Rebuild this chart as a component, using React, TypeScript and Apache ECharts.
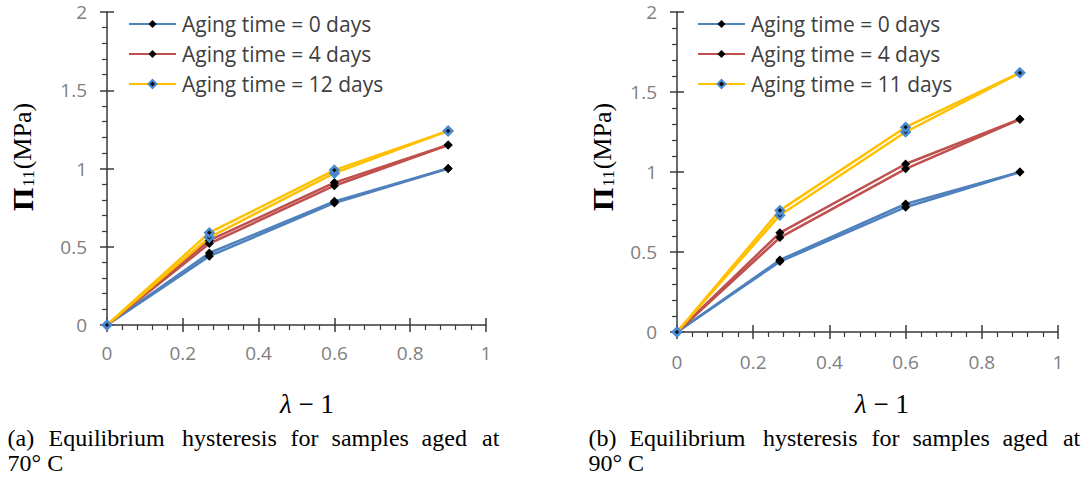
import React, { useEffect, useRef } from "react";
import * as echarts from "echarts";

// stretch (lambda - 1) at which the points were measured
const stretch = [0, 0.27, 0.6, 0.9];

// tick values
const xTicks = { min: 0, max: 1, interval: 0.2 };
const yTicks = { min: 0, max: 2, interval: 0.5 };

// (a) aged at 70°C — two branches (loading / unloading) per aging time
const names70 = ["Aging time = 0 days", "Aging time = 4 days", "Aging time = 12 days"];
const a70_0_load = [0, 0.44, 0.78, 1.0];
const a70_0_unload = [0, 0.46, 0.79, 1.0];
const a70_4_load = [0, 0.52, 0.89, 1.15];
const a70_4_unload = [0, 0.54, 0.91, 1.15];
const a70_12_load = [0, 0.56, 0.97, 1.24];
const a70_12_unload = [0, 0.59, 0.99, 1.24];

// (b) aged at 90°C
const names90 = ["Aging time = 0 days", "Aging time = 4 days", "Aging time = 11 days"];
const a90_0_load = [0, 0.44, 0.78, 1.0];
const a90_0_unload = [0, 0.45, 0.8, 1.0];
const a90_4_load = [0, 0.59, 1.02, 1.33];
const a90_4_unload = [0, 0.62, 1.05, 1.33];
const a90_11_load = [0, 0.73, 1.25, 1.62];
const a90_11_unload = [0, 0.76, 1.28, 1.62];

const captionA = ["(a)", "Equilibrium", "hysteresis", "for", "samples", "aged", "at"];
const captionB = ["(b)", "Equilibrium", "hysteresis", "for", "samples", "aged", "at"];
const captionA2 = "70° C";
const captionB2 = "90° C";

const COLORS = ["#4F81BD", "#C0504D", "#FFC000"];
const AXIS_COLOR = "#3a3a3a";
const TICK_FONT = "'Open Sans', sans-serif";
const SERIF_NAME = "Liberation Serif";

function pairs(ys: number[]) {
  return stretch.map((x, i) => [x, ys[i]]);
}

function lineSeries(name: string, color: string, ys: number[], axis: number, special: boolean) {
  return {
    type: "line",
    name,
    xAxisIndex: axis,
    yAxisIndex: axis,
    data: pairs(ys),
    symbol: "diamond",
    symbolSize: special ? 8 : 9,
    lineStyle: { color, width: 2.5 },
    itemStyle: special
      ? { color: "#111111", borderColor: "#4a8ad0", borderWidth: 2.5 }
      : { color: "#000000", borderWidth: 0 },
    emphasis: { disabled: true },
    z: 2,
  };
}

function mainX(gridIndex: number, margin: number) {
  return {
    type: "value",
    gridIndex,
    position: "bottom",
    ...xTicks,
    axisLine: { show: true, onZero: false, lineStyle: { color: AXIS_COLOR, width: 1.5 } },
    axisTick: { show: true, length: 7, lineStyle: { color: AXIS_COLOR, width: 1.5 } },
    minorTick: { show: true, splitNumber: 5, length: 5, lineStyle: { color: AXIS_COLOR, width: 1.2 } },
    splitLine: { show: false },
    axisLabel: { margin, fontFamily: TICK_FONT, fontSize: 19, lineHeight: 19, color: "#808080" },
  };
}
function overlayX(gridIndex: number) {
  return {
    type: "value",
    gridIndex,
    position: "bottom",
    ...xTicks,
    axisLine: { show: false, onZero: false },
    axisTick: { show: true, inside: true, length: 7, lineStyle: { color: AXIS_COLOR, width: 1.5 } },
    minorTick: { show: false },
    splitLine: { show: false },
    axisLabel: { show: false },
  };
}
function mainY(gridIndex: number) {
  return {
    type: "value",
    gridIndex,
    position: "left",
    ...yTicks,
    axisLine: { show: true, onZero: false, lineStyle: { color: AXIS_COLOR, width: 1.5 } },
    axisTick: { show: true, length: 7, lineStyle: { color: AXIS_COLOR, width: 1.5 } },
    minorTick: { show: true, splitNumber: 5, length: 5, lineStyle: { color: AXIS_COLOR, width: 1.2 } },
    splitLine: { show: false },
    axisLabel: { margin: 20, fontFamily: TICK_FONT, fontSize: 19, lineHeight: 17, color: "#808080" },
  };
}
function overlayY(gridIndex: number) {
  return {
    type: "value",
    gridIndex,
    position: "left",
    ...yTicks,
    axisLine: { show: false, onZero: false },
    axisTick: { show: true, inside: true, length: 7, lineStyle: { color: AXIS_COLOR, width: 1.5 } },
    minorTick: { show: false },
    splitLine: { show: false },
    axisLabel: { show: false },
  };
}

function serifFont(size: number, extra = "") {
  return `${extra} ${size}px "${SERIF_NAME}", serif`.trim();
}

function yTitle(cx: number, cy: number) {
  return {
    type: "text",
    x: cx,
    y: cy,
    rotation: Math.PI / 2,
    style: {
      text: "{p|Π}{s|11}{m|(MPa)}",
      align: "center",
      verticalAlign: "middle",
      rich: {
        p: { font: serifFont(30, "bold"), fill: "#000" },
        s: { font: serifFont(17), fill: "#000", padding: [12, 1, 0, 1] },
        m: { font: serifFont(26), fill: "#000" },
      },
    },
  };
}

function xTitle(cx: number, cy: number) {
  return {
    type: "text",
    x: cx,
    y: cy,
    style: {
      text: "{l|λ}{t| − 1}",
      align: "center",
      verticalAlign: "middle",
      rich: {
        l: { font: serifFont(27, "italic"), fill: "#000" },
        t: { font: serifFont(27), fill: "#000" },
      },
    },
  };
}

const wordOffsets = [0, 41, 174.5, 283, 324, 414, 474.5];

function caption(words: string[], second: string, x0: number) {
  const els: any[] = words.map((w, i) => ({
    type: "text",
    x: x0 + wordOffsets[i],
    y: 438,
    style: { text: w, font: serifFont(24), fill: "#000", align: "left", verticalAlign: "middle" },
  }));
  els.push({
    type: "text",
    x: x0,
    y: 463,
    style: { text: second, font: serifFont(24), fill: "#000", align: "left", verticalAlign: "middle" },
  });
  return els;
}

function legend(left: number, names: string[]) {
  return {
    left,
    top: 13,
    padding: 0,
    orient: "vertical",
    itemWidth: 47,
    itemHeight: 10,
    itemGap: 8,
    data: names,
    selectedMode: false,
    textStyle: { fontFamily: TICK_FONT, fontSize: 21, color: "#404040", lineHeight: 22, padding: [0, 0, 0, 1] },
  };
}

export default function App() {
  const ref = useRef<HTMLDivElement>(null);

  useEffect(() => {
    if (!ref.current) return;
    const chart = echarts.init(ref.current, null, { renderer: "svg" });

    const series = [
      lineSeries(names70[0], COLORS[0], a70_0_load, 0, false),
      lineSeries(names70[0], COLORS[0], a70_0_unload, 0, false),
      lineSeries(names70[1], COLORS[1], a70_4_load, 0, false),
      lineSeries(names70[1], COLORS[1], a70_4_unload, 0, false),
      lineSeries(names70[2], COLORS[2], a70_12_load, 0, true),
      lineSeries(names70[2], COLORS[2], a70_12_unload, 0, true),
      lineSeries(names90[0], COLORS[0], a90_0_load, 2, false),
      lineSeries(names90[0], COLORS[0], a90_0_unload, 2, false),
      lineSeries(names90[1], COLORS[1], a90_4_load, 2, false),
      lineSeries(names90[1], COLORS[1], a90_4_unload, 2, false),
      lineSeries(names90[2], COLORS[2], a90_11_load, 2, true),
      lineSeries(names90[2], COLORS[2], a90_11_unload, 2, true),
    ];

    chart.setOption({
      animation: false,
      backgroundColor: "#ffffff",
      grid: [
        { left: 107, top: 12, width: 379, height: 313 },
        { left: 677, top: 12, width: 381, height: 320 },
      ],
      xAxis: [mainX(0, 18), overlayX(0), mainX(1, 20), overlayX(1)],
      yAxis: [mainY(0), overlayY(0), mainY(1), overlayY(1)],
      legend: [legend(128, names70), legend(697, names90)],
      series,
      graphic: [
        yTitle(22, 157),
        yTitle(602, 157),
        xTitle(307, 404),
        xTitle(882, 404),
        ...caption(captionA, captionA2, 7.6),
        ...caption(captionB, captionB2, 588.4),
      ],
    });

    return () => chart.dispose();
  }, []);

  return (
    <div
      ref={ref}
      style={{ position: "absolute", left: 0, top: 0, width: 1089, height: 481 }}
    />
  );
}
